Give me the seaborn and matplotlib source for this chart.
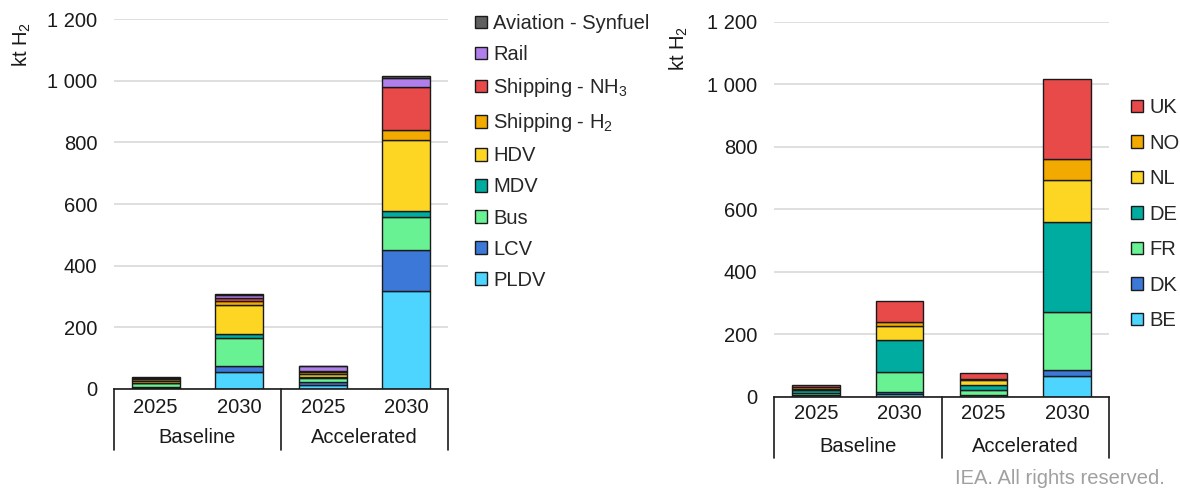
import pandas as pd
import numpy as np
import matplotlib
matplotlib.use('Agg')
import matplotlib.pyplot as plt
import seaborn as sns
from matplotlib.patches import Patch
from matplotlib.ticker import FuncFormatter

# Данные: порядок столбцов - Baseline 2025, Baseline 2030, Accelerated 2025, Accelerated 2030
years = ['2025', '2030', '2025', '2030']
groups = ['Baseline', 'Accelerated']

# Левый график - по сегментам транспорта (kt H2)
sectors = ['Aviation - Synfuel', 'Rail', 'Shipping - NH$_3$', 'Shipping - H$_2$',
           'HDV', 'MDV', 'Bus', 'LCV', 'PLDV']
aviation = [1, 2, 1, 7]
rail = [3, 10, 14, 31]
ship_nh3 = [3, 8, 5, 137]
ship_h2 = [4, 15, 5, 35]
hdv = [6, 95, 9, 229]
mdv = [3, 10, 4, 19]
bus = [12, 93, 12, 108]
lcv = [3, 19, 10, 132]
pldv = [3, 55, 14, 318]

# Правый график - по странам (kt H2)
countries = ['UK', 'NO', 'NL', 'DE', 'FR', 'DK', 'BE']
uk = [6, 67, 18, 256]
no = [5, 14, 5, 68]
nl = [4, 45, 14, 134]
de = [9, 103, 18, 290]
fr = [5, 62, 14, 184]
dk = [3, 7, 2, 20]
be = [4, 9, 4, 66]

sector_colors = ['#5F5F5F', '#B07FEB', '#E84A4A', '#F2A900', '#FDD523',
                 '#00AB9F', '#69F294', '#3C78D8', '#4DD4FF']
country_colors = ['#E84A4A', '#F2A900', '#FDD523', '#00AB9F', '#69F294', '#3C78D8', '#4DD4FF']

FS = 14.5


def long_table(names, series):
    rows = []
    for name, vals in zip(names, series):
        for i, v in enumerate(vals):
            rows.append({'pos': i, 'name': name, 'value': v})
    return pd.DataFrame(rows)


df_left = long_table(sectors, [aviation, rail, ship_nh3, ship_h2, hdv, mdv, bus, lcv, pldv])
df_right = long_table(countries, [uk, no, nl, de, fr, dk, be])

sns.set_theme(style='white')
plt.rcParams['font.family'] = ['Liberation Sans', 'DejaVu Sans']
plt.rcParams['mathtext.default'] = 'regular'

fig = plt.figure(figsize=(11.8, 4.91), dpi=100)
ax1 = fig.add_axes([114 / 1180, 1 - 389 / 491, 334 / 1180, 370 / 491])
ax2 = fig.add_axes([774 / 1180, 1 - 396.7 / 491, 335 / 1180, 374.7 / 491])

fmt = FuncFormatter(lambda v, p: f'{int(v):,}'.replace(',', ' '))


def draw(ax, df, order, colors, box_depth, year_y, group_y, label_xy):
    sns.histplot(data=df, x='pos', weights='value', hue='name', hue_order=order,
                 multiple='stack', discrete=True, shrink=0.57, palette=colors,
                 alpha=1, edgecolor='#1a1a1a', linewidth=1, legend=False, ax=ax)
    ax.set_xlim(-0.5, 3.5)
    ax.set_ylim(0, 1200)
    ax.set_yticks(range(0, 1201, 200))
    ax.yaxis.set_major_formatter(fmt)
    ax.yaxis.grid(True, color='#D9D9D9', linewidth=1.2)
    ax.set_axisbelow(True)
    for s in ['left', 'right', 'top']:
        ax.spines[s].set_visible(False)
    ax.spines['bottom'].set_color('#1a1a1a')
    ax.spines['bottom'].set_linewidth(1.2)
    ax.tick_params(axis='y', length=0, pad=12, labelsize=FS, labelcolor='#1a1a1a')
    ax.set_xticks([])
    ax.set_xlabel('')
    ax.set_ylabel('kt H$_2$', fontsize=FS, color='#1a1a1a')
    ax.yaxis.set_label_coords(*label_xy)
    # рамка категорий под осью
    for x in [0, 0.5, 1]:
        ax.plot([x, x], [0, box_depth], transform=ax.transAxes, color='#1a1a1a',
                linewidth=1.2, clip_on=False)
    for i, y in enumerate(years):
        ax.text((i + 0.5) / 4, year_y, y, transform=ax.transAxes, ha='center',
                va='center', fontsize=FS, color='#1a1a1a')
    for i, g in enumerate(groups):
        ax.text(0.25 + i * 0.5, group_y, g, transform=ax.transAxes, ha='center',
                va='center', fontsize=FS, color='#1a1a1a')


draw(ax1, df_left, sectors, sector_colors, -0.165, -0.049, -0.132, (-0.243, 0.93))
draw(ax2, df_right, countries, country_colors, -0.1636, -0.046, -0.1316, (-0.251, 0.93))

h1 = [Patch(facecolor=c, edgecolor='#1a1a1a', linewidth=1, label=n)
      for n, c in zip(sectors, sector_colors)]
fig.legend(handles=h1, loc='upper left', bbox_to_anchor=(475 / 1180, 1 - 14 / 491),
           frameon=False, fontsize=FS, handlelength=0.6, handleheight=0.6,
           handletextpad=0.3, labelspacing=0.6, borderaxespad=0, borderpad=0)

h2 = [Patch(facecolor=c, edgecolor='#1a1a1a', linewidth=1, label=n)
      for n, c in zip(countries, country_colors)]
fig.legend(handles=h2, loc='upper left', bbox_to_anchor=(1131 / 1180, 1 - 98 / 491),
           frameon=False, fontsize=FS, handlelength=0.6, handleheight=0.6,
           handletextpad=0.3, labelspacing=0.82, borderaxespad=0, borderpad=0)

fig.text(1165 / 1180, 1 - 478 / 491, 'IEA. All rights reserved.', ha='right', va='center',
         fontsize=FS, color='#A0A0A0')

fig.savefig('out.png', dpi=100)
